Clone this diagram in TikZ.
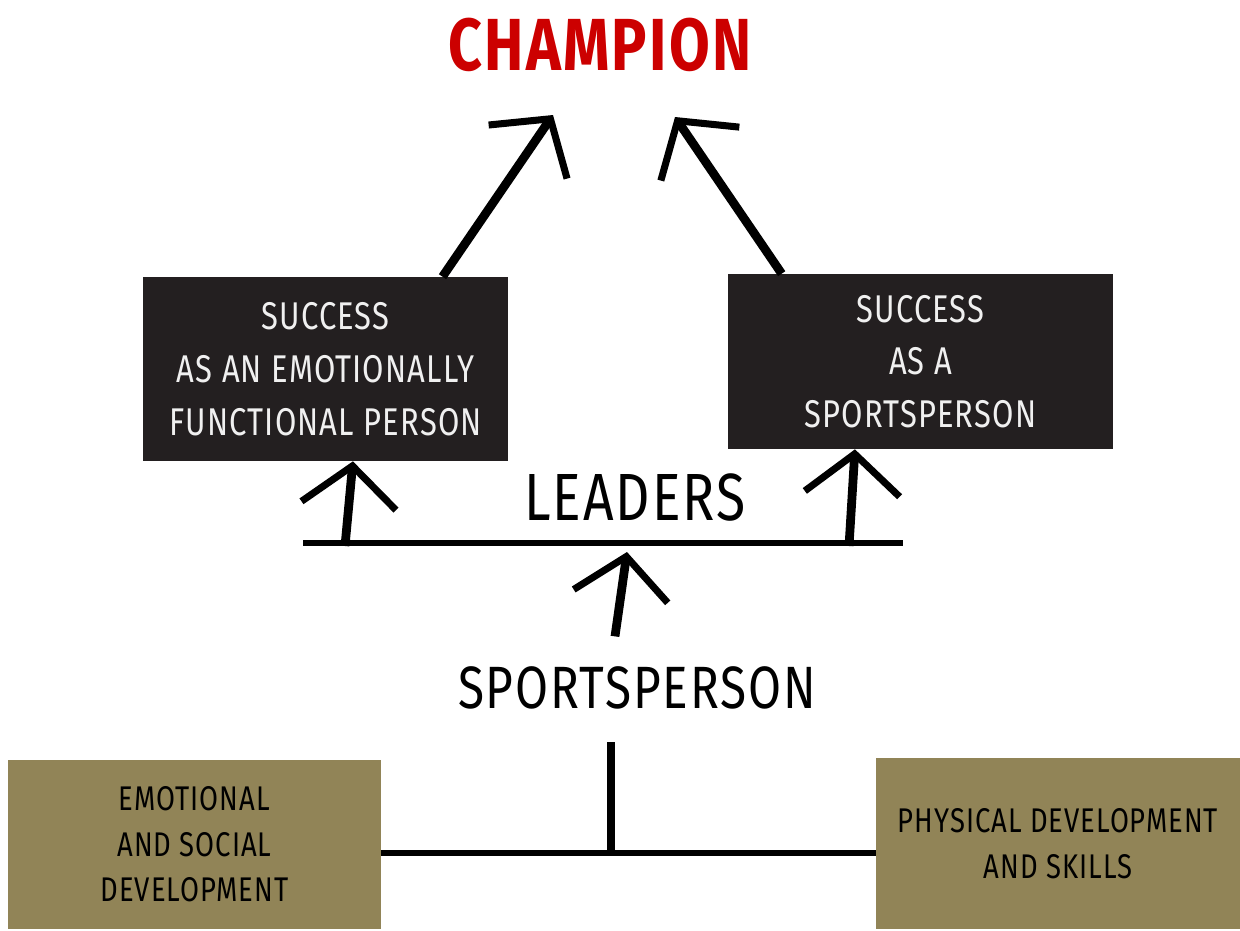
\documentclass[tikz,border=0pt]{standalone}
\usepackage{fontspec}
\usepackage{xcolor}
\usepackage{tikz}
\usetikzlibrary{arrows.meta, positioning, calc}
\newfontfamily\handfont[FakeStretch=0.8, LetterSpace=3]{Fira Sans}
\definecolor{inkred}{RGB}{204,0,0}
\definecolor{board}{RGB}{35,31,32}
\definecolor{khaki}{RGB}{145,132,87}
\definecolor{chalk}{RGB}{240,240,240}

\begin{document}
\begin{tikzpicture}[
    x=0.02cm, y=-0.02cm,
    boardbox/.style={rectangle, fill=board, text=chalk, align=center, inner sep=0pt,
        font=\handfont\fontsize{22}{30}\selectfont},
    groundbox/.style={rectangle, fill=khaki, text=black, align=center, inner sep=0pt,
        font=\handfont\fontsize{19.5}{26}\selectfont},
    title/.style={font=\handfont\fontsize{35}{40}\selectfont, inner sep=0pt},
    bar/.style={line width=3pt},
    upline/.style={line width=5pt,
        -{Straight Barb[length=0.8cm, width=1.9cm, line width=4pt]}}
]
\useasboundingbox (0,0) rectangle (1240,930);

\node[font=\handfont\bfseries\fontsize{42}{48}\selectfont, text=inkred, inner sep=0pt] (champion) at (600,45) {CHAMPION};

\node[boardbox, minimum width=7.3cm, minimum height=3.68cm] (lbox) at (325.5,369)
    {SUCCESS\\AS AN EMOTIONALLY\\FUNCTIONAL PERSON};
\node[boardbox, minimum width=7.7cm, minimum height=3.5cm] (rbox) at (920.5,361.5)
    {SUCCESS\\AS A\\SPORTSPERSON};

\node[title, font=\handfont\fontsize{38}{40}\selectfont] (leaders) at (635,497) {LEADERS};
\node[title, font=\handfont\fontsize{34}{40}\selectfont] (sportsperson) at (637,688) {SPORTSPERSON};

\node[groundbox, minimum width=7.46cm, minimum height=3.38cm] (ebox) at (194.5,844.5)
    {EMOTIONAL\\AND SOCIAL\\DEVELOPMENT};
\node[groundbox, minimum width=7.28cm, minimum height=3.42cm] (pbox) at (1058,843.5)
    {\fontsize{19.5}{23}\selectfont PHYSICAL DEVELOPMENT\\AND SKILLS};

% points on the bars
\coordinate (barL) at (303,543);
\coordinate (barR) at (903,543);
\coordinate (join) at (611,853);
\coordinate (tipL) at (553,115);
\coordinate (tipR) at (675,117);

% two roads up to the top
\draw[upline] ($(lbox.north west)!0.82!(lbox.north east)$) -- (tipL);
\draw[upline] ($(rbox.north west)!0.14!(rbox.north east)$) -- (tipR);

% leaders bar and its arrows
\draw[bar] (barL) -- (barR);
\draw[upline] (345,546) -- ($(lbox.south west)!0.575!(lbox.south east)$);
\draw[upline] (849,546) -- ($(rbox.south west)!0.33!(rbox.south east)$);
\draw[upline] ($(sportsperson.north)+(-22,-30)$) -- ($(barL)!0.54!(barR)+(0,9)$);

% base joining the two developments
\draw[bar] (ebox.east |- join) -- (pbox.west |- join);
\draw[line width=4.5pt] (join) -- ($(sportsperson.south)+(-26,32)$);

\end{tikzpicture}
\end{document}
